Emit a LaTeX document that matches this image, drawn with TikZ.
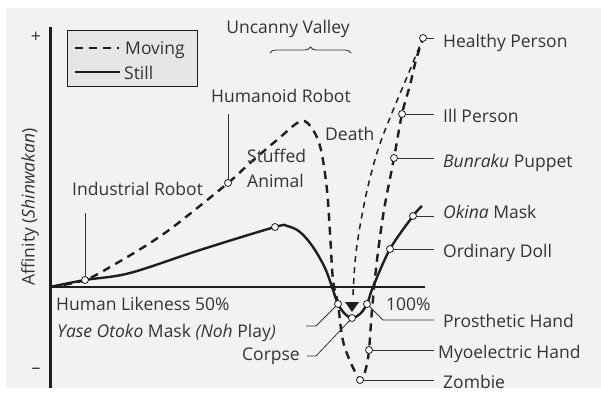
\documentclass[tikz,border=0pt]{standalone}
\usepackage{fontspec}
\setmainfont{Open Sans}
\usepackage{xcolor}
\usepackage{tikz}
\usetikzlibrary{calc,positioning,decorations.pathreplacing}
\definecolor{bgx}{HTML}{F2F2F2}
\definecolor{legx}{HTML}{E6E6E6}
\definecolor{inkx}{HTML}{1E1E1E}
\definecolor{txtx}{HTML}{333333}
\tikzset{
  still/.style={line width=2.4pt,inkx},
  moving/.style={line width=2.4pt,inkx,dash pattern=on 8pt off 6pt},
  death/.style={line width=1.5pt,inkx,dash pattern=on 6pt off 5pt},
  lead/.style={line width=0.8pt,txtx},
  dot/.style={circle,draw=inkx,fill=white,line width=0.8pt,inner sep=0pt,minimum size=7pt},
  txt/.style={text=txtx,font=\fontsize{17.5}{25}\selectfont,inner sep=0pt},
  lab/.style={txt,anchor=west,inner xsep=9pt,text height=14pt,text depth=0pt}
}

\begin{document}
\begin{tikzpicture}[x=1pt,y=-1pt]
\useasboundingbox (0,0) rectangle (601,394);
\fill[bgx] (6,8) rectangle (601,388);
% axes
\draw[line width=3pt,inkx] (50,27) -- (50,388);
\draw[line width=1.1pt,inkx] (50,287) -- (425,287);
\node[txt] (plus) at (36,37) {+};
\node[txt] (minus) at (36,371) {–};
\node[txt,rotate=90] (yl) at (30,207) {Affinity (\textit{Shinwakan})};
% legend
\draw[line width=1pt,inkx,fill=legx] (67,30) rectangle (197,86);
\draw[moving] (75,48) -- (119,48);
\draw[still] (75,72) -- (120,72);
\node[txt,anchor=base west] (mv) at (125,54) {Moving};
\node[txt,anchor=base west] (st) at (124,79) {Still};
% points on the curves
\coordinate (o) at (50,287);
\coordinate (ir) at (85,280);
\coordinate (hr) at (228,183);
\coordinate (sa) at (275,227);
\coordinate (ym) at (338,304);
\coordinate (cp) at (352,318);
\coordinate (ph) at (367,304);
\coordinate (od) at (390,249);
\coordinate (ok) at (413,216);
\coordinate (zb) at (360,380);
\coordinate (me) at (369,350);
\coordinate (bp) at (394,158);
\coordinate (ip) at (402,114);
\coordinate (hp) at (423,38);
% still
\draw[still] plot[smooth,tension=0.55] coordinates {(o) (ir) (130,273) (200,250) (sa) (287,226) (300,232) (313,247) (325,268) (332,287) (ym) (345,314) (cp) (360,314) (ph) (373,287) (od) (ok) (422,206)};
% moving
\draw[moving] plot[smooth,tension=0.55] coordinates {(o) (ir) (117,263) (150,243) (177,224) (hr) (250,163) (277,140) (301,121) (313,130) (321,150) (327,190) (330,233) (333,280) (ym) (344,345) (zb) (366,368) (me) (372,310) (377,260) (384,210) (bp) (ip) (410,85) (416,60) (hp)};
% death
\draw[death] plot[smooth,tension=0.55] coordinates {(353,295) (355,262) (359,232) (366,195) (374,163) (382,138) (394,108) (407,77) (416,55) (hp)};
\fill[inkx] (345,302) -- (359,302) -- (352,312) -- cycle;
% brace
\draw[line width=0.8pt,txtx,decorate,decoration={brace,amplitude=6pt}] (270,53) -- (351,53);
\node[txt,anchor=base] (uv) at (288,33) {Uncanny Valley};
% labels
\node[txt,anchor=base west] (irl) at (72,195) {Industrial Robot};
\node[txt,anchor=base west] (hrl) at (211,102) {Humanoid Robot};
\node[txt,anchor=base west,align=left] (sal) at (247,187) {Stuffed\\Animal};
\node[txt,anchor=base west] (dt) at (325,140) {Death};
\node[txt,anchor=base west] (hl) at (56,310) {Human Likeness 50\%};
\node[txt,anchor=base west] (hund) at (386,310) {100\%};
\node[txt,anchor=base west] (yml) at (57,337) {\textit{Yase Otoko} Mask \textit{(Noh} Play\textit{)}};
\node[txt,anchor=base east] (cpl) at (300,360) {Corpse};
\node[lab] (hpl) at (434,40) {Healthy Person};
\node[lab] (ipl) at (434,115) {Ill Person};
\node[lab] (bpl) at (434,160) {\textit{Bunraku} Puppet};
\node[lab] (okl) at (434,211) {\textit{Okina} Mask};
\node[lab] (odl) at (434,250) {Ordinary Doll};
\node[lab] (phl) at (434,320) {Prosthetic Hand};
\node[lab,inner xsep=4pt] (mel) at (434,351) {Myoelectric Hand};
\node[lab] (zbl) at (434,381) {Zombie};
% leaders
\draw[lead] (ir) -- ++(0,-67);
\draw[lead] (hr) -- ++(0,-69);
\draw[lead] (hp) -- (hp -| hpl.west);
\draw[lead] (ip) -- (ip -| ipl.west);
\draw[lead] (bp) -- (bp -| bpl.west);
\draw[lead] (ok) -- (ok -| okl.west);
\draw[lead] (od) -- (od -| odl.west);
\draw[lead] (ph) -- ++(16,16) -- (phl.west);
\draw[lead] (me) -- (me -| mel.west);
\draw[lead] (zb) -- (zb -| zbl.west);
\draw[lead] (ym) -- ++(-22,22) -- ++(-10,0);
\draw[lead] (cp) -- ++(-36,38) -- ++(-9,0);
% open circles
\foreach \p in {ir,hr,sa,ym,cp,ph,od,ok,zb,me,bp,ip,hp}
  \node[dot] at (\p) {};
\end{tikzpicture}
\end{document}
